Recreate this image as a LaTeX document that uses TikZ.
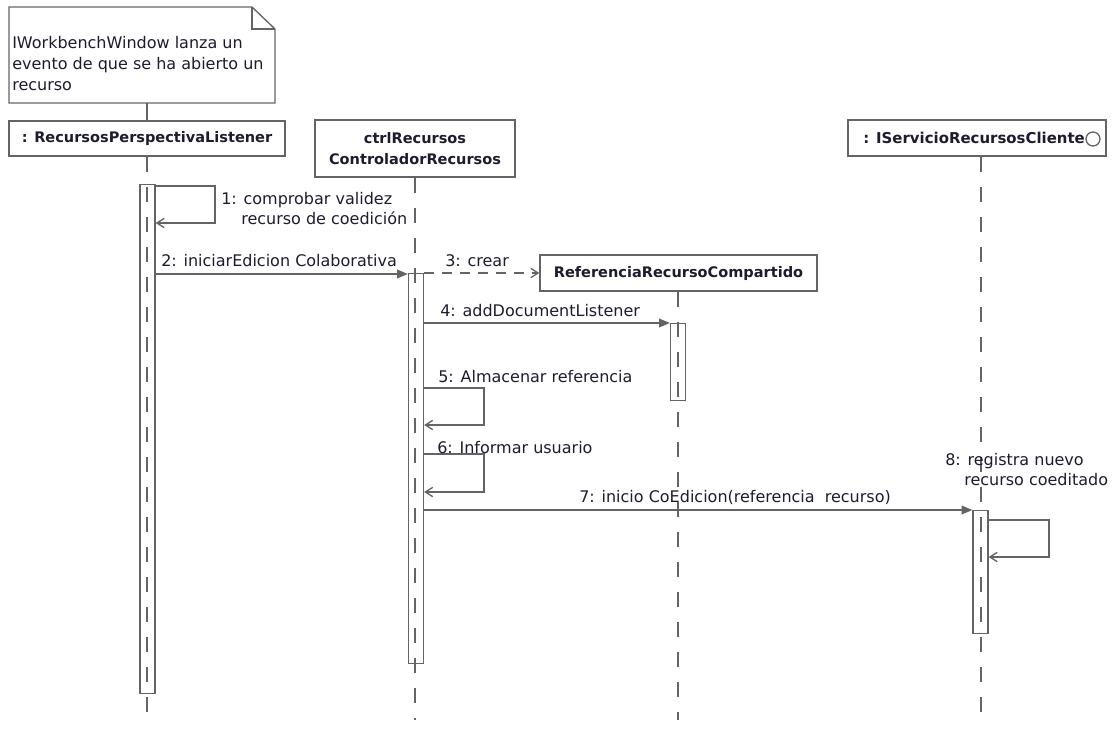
\documentclass[tikz,border=0pt]{standalone}
\usepackage{fontspec}
\setmainfont{DejaVu Sans}
\usetikzlibrary{arrows.meta}
\definecolor{lc}{HTML}{646464}
\definecolor{tc}{HTML}{1C1C2E}
\begin{document}
\begin{tikzpicture}[x=0.75pt,y=-0.75pt,
  every node/.style={text=tc},
  txt/.style={font=\fontsize{12}{15.75}\selectfont, inner sep=0pt},
  head/.style={draw=lc, line width=1pt, fill=white, inner sep=0pt,
    font=\bfseries\fontsize{10.9}{15.75}\selectfont, align=center},
  actbar/.style={draw=lc, line width=1pt, fill=white, inner sep=0pt,
    minimum width=11.25pt, anchor=north},
  life/.style={draw=lc, line width=1pt, dash pattern=on 11.25pt off 11.25pt},
  syncmsg/.style={draw=lc, line width=1pt, -{Triangle[length=8pt,width=6.5pt]}},
  selfmsg/.style={draw=lc, line width=1pt, -{Straight Barb[length=5.5pt,width=7pt]}},
  createmsg/.style={draw=lc, line width=1pt, dash pattern=on 7.5pt off 6pt,
    -{Straight Barb[length=5.5pt,width=7pt]}},
  plain/.style={draw=lc, line width=1pt}
]
\useasboundingbox (0,0) rectangle (1116,731);

% note with folded corner
\coordinate (nTL) at (9,7);
\coordinate (nBR) at (275,103);
\coordinate (nF1) at (252,7);
\coordinate (nF2) at (275,29);
\draw[plain, fill=white] (nTL) -- (nF1) -- (nF2) -- (nBR) -- (nTL |- nBR) -- cycle;
\draw[plain] (nF1) -- (nF1 |- nF2) -- (nF2);
\node[txt, anchor=north west, align=left] (note) at (12,36)
  {IWorkbenchWindow lanza un\\evento de que se ha abierto un\\recurso};

% lifeline heads
\node[head, minimum width=207pt, minimum height=26.25pt] (h1) at (147,138.5)
  {: RecursosPerspectivaListener};
\node[head, minimum width=150pt, minimum height=42.75pt] (h2) at (415,148.5)
  {ctrlRecursos\\ControladorRecursos};
\node[head, minimum width=207.75pt, minimum height=27pt] (h3) at (678.5,273)
  {ReferenciaRecursoCompartido};
\node[head, minimum width=193.5pt, minimum height=27pt] (h4) at (977,138) {};
\node[head, draw=none, fill=none, font=\bfseries\fontsize{11.2}{15.75}\selectfont]
  (h4t) at (974,138) {: IServicioRecursosCliente};
\node[draw=lc, line width=1pt, circle, minimum size=10.5pt, inner sep=0pt] (h4c) at (1093,139) {};

% note anchor line
\coordinate (nbot) at (147,103);
\draw[plain] (nbot) -- (h1.north);

% activation bars
\node[actbar, minimum height=381.75pt] (b1) at (147.5,184) {};
\node[actbar, minimum height=292.5pt] (b2) at (416,273) {};
\node[actbar, minimum height=57.75pt] (b3) at (678,323) {};
\node[actbar, minimum height=92.25pt] (b4) at (980.5,510) {};

% lifelines
\coordinate (e1) at (147,720);
\coordinate (e2) at (415,720);
\coordinate (e3) at (678,720);
\coordinate (e4) at (981,720);
\draw[life] (h1.south -| e1) -- (e1);
\draw[life] (h2.south -| e2) -- (e2);
\draw[life] (h3.south -| e3) -- (e3);
\draw[life] (h4.south -| e4) -- (e4);

% 1: self call
\draw[selfmsg] (b1.east |- 0,186) -- (215,186) -- (215,223) -- (b1.east |- 0,223);
\node[txt, anchor=base west] (l1a) at (221,204) {1: comprobar validez};
\node[txt, anchor=base west] (l1b) at (241,224) {recurso de coedición};

% 2
\draw[syncmsg] (b1.east |- 0,274) -- (b2.west |- 0,274);
\node[txt, anchor=base west] (l2) at (161,266) {2: iniciarEdicion Colaborativa};

% 3: create
\draw[createmsg] (b2.east |- h3.west) -- (h3.west);
\node[txt, anchor=base west] (l3) at (445,266) {3: crear};

% 4
\draw[syncmsg] (b2.east |- b3.north) -- (b3.north west);
\node[txt, anchor=base west] (l4) at (440,316) {4: addDocumentListener};

% 5: self call
\draw[selfmsg] (b2.east |- 0,388) -- (484,388) -- (484,425) -- (b2.east |- 0,425);
\node[txt, anchor=base west] (l5) at (438,382) {5: Almacenar referencia};

% 6: self call
\draw[selfmsg] (b2.east |- 0,454) -- (484,454) -- (484,492) -- (b2.east |- 0,492);
\node[txt, anchor=base west] (l6) at (437,453) {6: Informar usuario};

% 7
\draw[syncmsg] (b2.east |- b4.north) -- (b4.north west);
\node[txt, anchor=base west] (l7) at (579,502) {7: inicio CoEdicion(referencia\ \ recurso)};

% 8: self call
\draw[selfmsg] (b4.east |- 0,520) -- (1049,520) -- (1049,557) -- (b4.east |- 0,557);
\node[txt, anchor=base west] (l8a) at (945,465) {8: registra nuevo};
\node[txt, anchor=base west] (l8b) at (964,485) {recurso coeditado};
\end{tikzpicture}
\end{document}
